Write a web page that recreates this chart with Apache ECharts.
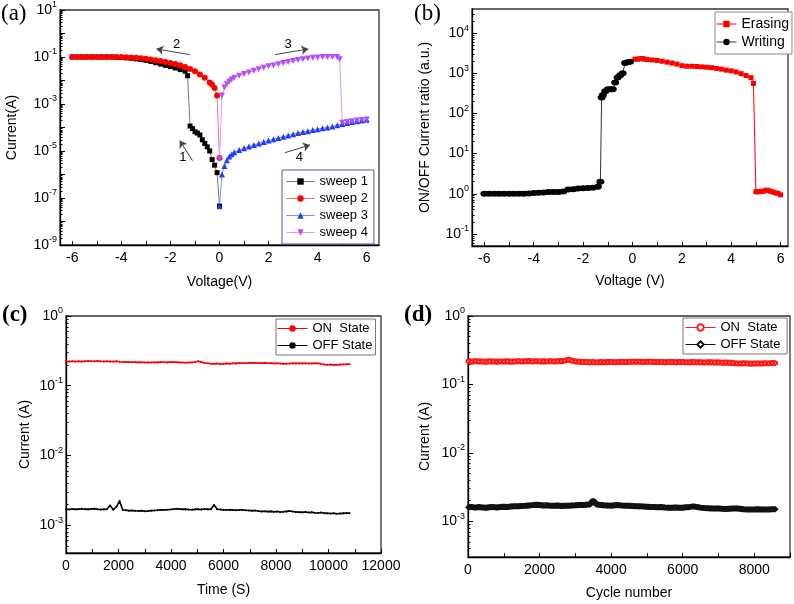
<!DOCTYPE html>
<html>
<head>
<meta charset="utf-8">
<script src="https://cdn.jsdelivr.net/npm/echarts@6/dist/echarts.min.js"></script>
<style>
html, body { margin: 0; padding: 0; background: #fff; }
#chart { width: 794px; height: 604px; }
</style>
</head>
<body>
<div id="chart"></div>
<script>
// ---------- (a) I-V sweeps ----------
const sweep1V = [0, -0.1, -0.2, -0.3, -0.4, -0.5, -0.6, -0.7, -0.8, -0.9, -1.0, -1.1, -1.2, -1.3, -1.4, -1.6, -1.8, -2.0, -2.2, -2.4, -2.6, -2.8, -3.0, -3.2, -3.4, -3.6, -3.8, -4.0, -4.2, -4.4, -4.6, -4.8, -5.0, -5.2, -5.4, -5.6, -5.8, -6.0]
const sweep1I = [4.5e-8, 1.2e-6, 2.5e-6, 4.3e-6, 1.0e-5, 1.5e-5, 2.1e-5, 3.0e-5, 4.8e-5, 5.8e-5, 6.6e-5, 9.0e-5, 1.15e-4, 0.016, 0.025, 0.029, 0.034, 0.039, 0.044, 0.050, 0.057, 0.065, 0.072, 0.078, 0.083, 0.088, 0.092, 0.095, 0.098, 0.1, 0.1, 0.1, 0.1, 0.1, 0.1, 0.1, 0.1, 0.1]

const sweep2V = [-6.0, -5.8, -5.6, -5.4, -5.2, -5.0, -4.8, -4.6, -4.4, -4.2, -4.0, -3.8, -3.6, -3.4, -3.2, -3.0, -2.8, -2.6, -2.4, -2.2, -2.0, -1.8, -1.6, -1.4, -1.2, -1.0, -0.8, -0.6, -0.4, -0.3, -0.2, -0.1, 0]
const sweep2I = [0.1, 0.1, 0.1, 0.1, 0.1, 0.1, 0.1, 0.1, 0.1, 0.1, 0.099, 0.098, 0.096, 0.093, 0.089, 0.084, 0.079, 0.073, 0.067, 0.061, 0.056, 0.050, 0.045, 0.038, 0.031, 0.025, 0.018, 0.013, 0.0082, 0.0066, 0.0048, 0.0023, 5e-6]

const sweep3V = [0, 0.1, 0.2, 0.3, 0.4, 0.5, 0.6, 0.8, 1.0, 1.2, 1.4, 1.6, 1.8, 2.0, 2.2, 2.4, 2.6, 2.8, 3.0, 3.2, 3.4, 3.6, 3.8, 4.0, 4.2, 4.4, 4.6, 4.8, 5.0, 5.2, 5.4, 5.6, 5.8, 6.0]
const sweep3I = [4.5e-8, 1.0e-6, 2.3e-6, 4.0e-6, 5.8e-6, 7.3e-6, 8.8e-6, 1.1e-5, 1.3e-5, 1.55e-5, 1.8e-5, 2.1e-5, 2.4e-5, 2.8e-5, 3.2e-5, 3.6e-5, 4.0e-5, 4.6e-5, 5.2e-5, 5.8e-5, 6.4e-5, 7.0e-5, 7.8e-5, 8.5e-5, 9.3e-5, 1.0e-4, 1.1e-4, 1.25e-4, 1.4e-4, 1.55e-4, 1.7e-4, 1.85e-4, 2.0e-4, 2.15e-4]

const sweep4V = [0, 0.1, 0.2, 0.3, 0.4, 0.5, 0.6, 0.8, 1.0, 1.2, 1.4, 1.6, 1.8, 2.0, 2.2, 2.4, 2.6, 2.8, 3.0, 3.2, 3.4, 3.6, 3.8, 4.0, 4.2, 4.4, 4.6, 4.8, 4.9, 5.0, 5.2, 5.4, 5.6, 5.8, 6.0]
const sweep4I = [4.6e-6, 2.3e-3, 5.0e-3, 7.0e-3, 9.0e-3, 0.011, 0.013, 0.016, 0.019, 0.022, 0.026, 0.030, 0.035, 0.040, 0.044, 0.049, 0.055, 0.061, 0.067, 0.074, 0.080, 0.086, 0.092, 0.096, 0.099, 0.1, 0.1, 0.1, 0.081, 1.6e-4, 1.7e-4, 1.85e-4, 2.0e-4, 2.1e-4, 2.2e-4]

// sweep-direction arrows, [tail, head] in (V, A), and their numbers
const arrowLines = [
  [[-1.21, 0.126], [-2.57, 0.22]],
  [[2.26, 0.126], [3.62, 0.22]],
  [[-1.10, 3.9e-6], [-1.62, 2.8e-5]],
  [[2.67, 8.5e-6], [3.69, 1.8e-5]]
]
const arrowLabels = [['2', -1.75, 0.34], ['3', 2.8, 0.35], ['1', -1.49, 5.4e-6], ['4', 3.25, 5.4e-6]]

// ---------- (b) ON/OFF ratio ----------
const writingV = [-6.0, -5.8, -5.6, -5.4, -5.2, -5.0, -4.8, -4.6, -4.4, -4.2, -4.0, -3.8, -3.6, -3.4, -3.2, -3.0, -2.8, -2.6, -2.4, -2.2, -2.0, -1.8, -1.6, -1.4, -1.3, -1.25, -1.2, -1.1, -1.0, -0.9, -0.8, -0.7, -0.6, -0.5, -0.4, -0.3, -0.2, -0.1]
const writingR = [1.0, 1.0, 1.0, 1.0, 1.0, 1.0, 1.0, 1.0, 1.0, 1.02, 1.04, 1.06, 1.08, 1.1, 1.1, 1.1, 1.14, 1.28, 1.3, 1.35, 1.38, 1.4, 1.42, 1.5, 2.0, 250, 290, 360, 400, 400, 400, 590, 790, 900, 1000, 1800, 1900, 1950]
const erasingV = [0.1, 0.2, 0.3, 0.4, 0.5, 0.6, 0.8, 1.0, 1.2, 1.4, 1.6, 1.8, 2.0, 2.2, 2.4, 2.6, 2.8, 3.0, 3.2, 3.4, 3.6, 3.8, 4.0, 4.2, 4.4, 4.6, 4.8, 4.9, 5.0, 5.1, 5.2, 5.3, 5.4, 5.5, 5.6, 5.7, 5.8, 5.9, 6.0]
const erasingR = [2250, 2250, 2300, 2350, 2250, 2200, 2150, 2100, 2000, 1900, 1800, 1700, 1550, 1500, 1500, 1480, 1450, 1420, 1380, 1330, 1270, 1200, 1150, 1080, 980, 880, 780, 560, 1.12, 1.12, 1.15, 1.15, 1.22, 1.22, 1.15, 1.1, 1.05, 1.02, 0.94]

// ---------- (c) retention, sampled every 120 s ----------
const timeStep = 120
const onTime = [0.224, 0.222, 0.225, 0.223, 0.224, 0.222, 0.225, 0.226, 0.224, 0.225, 0.226, 0.224, 0.223, 0.225, 0.223, 0.222, 0.224, 0.221, 0.219, 0.218, 0.219, 0.217, 0.218, 0.216, 0.217, 0.215, 0.216, 0.215, 0.217, 0.216, 0.218, 0.217, 0.216, 0.218, 0.219, 0.217, 0.216, 0.215, 0.214, 0.215, 0.216, 0.219, 0.224, 0.218, 0.212, 0.21, 0.207, 0.206, 0.208, 0.205, 0.206, 0.209, 0.207, 0.21, 0.209, 0.211, 0.21, 0.212, 0.214, 0.213, 0.214, 0.212, 0.211, 0.213, 0.21, 0.211, 0.209, 0.21, 0.208, 0.206, 0.207, 0.208, 0.21, 0.209, 0.21, 0.209, 0.21, 0.208, 0.209, 0.21, 0.209, 0.207, 0.201, 0.2, 0.201, 0.199, 0.2, 0.201, 0.202, 0.203, 0.204]
const offTimeMilliA = [1.70, 1.68, 1.71, 1.69, 1.70, 1.72, 1.70, 1.69, 1.71, 1.73, 1.70, 1.68, 1.69, 1.70, 1.92, 1.67, 1.84, 2.22, 1.66, 1.64, 1.62, 1.63, 1.61, 1.60, 1.62, 1.59, 1.60, 1.62, 1.63, 1.64, 1.66, 1.65, 1.67, 1.68, 1.70, 1.72, 1.71, 1.69, 1.70, 1.68, 1.67, 1.69, 1.70, 1.68, 1.71, 1.69, 1.70, 1.95, 1.70, 1.68, 1.66, 1.65, 1.67, 1.66, 1.64, 1.65, 1.66, 1.64, 1.63, 1.62, 1.63, 1.60, 1.58, 1.59, 1.57, 1.58, 1.56, 1.57, 1.55, 1.56, 1.58, 1.60, 1.57, 1.55, 1.54, 1.53, 1.55, 1.52, 1.53, 1.51, 1.50, 1.52, 1.49, 1.48, 1.47, 1.48, 1.46, 1.47, 1.48, 1.49, 1.49]

// ---------- (d) endurance, sampled every 100 cycles ----------
const cycleStep = 100
const onCycle = [0.218, 0.214, 0.219, 0.216, 0.217, 0.215, 0.218, 0.216, 0.214, 0.217, 0.216, 0.218, 0.215, 0.217, 0.219, 0.216, 0.218, 0.22, 0.217, 0.219, 0.216, 0.218, 0.217, 0.219, 0.216, 0.218, 0.22, 0.222, 0.229, 0.224, 0.216, 0.214, 0.212, 0.213, 0.211, 0.212, 0.21, 0.212, 0.211, 0.213, 0.212, 0.211, 0.213, 0.214, 0.212, 0.213, 0.214, 0.215, 0.214, 0.213, 0.215, 0.214, 0.213, 0.212, 0.213, 0.211, 0.212, 0.213, 0.211, 0.212, 0.213, 0.21, 0.211, 0.212, 0.21, 0.211, 0.209, 0.21, 0.211, 0.209, 0.21, 0.208, 0.209, 0.207, 0.205, 0.203, 0.202, 0.204, 0.203, 0.201, 0.202, 0.203, 0.202, 0.204, 0.203, 0.205, 0.206]
const offCycleMilliA = [1.60, 1.62, 1.58, 1.61, 1.59, 1.57, 1.60, 1.62, 1.59, 1.61, 1.63, 1.62, 1.64, 1.66, 1.65, 1.67, 1.68, 1.70, 1.72, 1.74, 1.73, 1.70, 1.71, 1.69, 1.68, 1.70, 1.67, 1.68, 1.69, 1.70, 1.71, 1.73, 1.72, 1.74, 1.76, 2.0, 1.75, 1.73, 1.71, 1.70, 1.69, 1.71, 1.72, 1.70, 1.69, 1.68, 1.67, 1.66, 1.65, 1.64, 1.63, 1.62, 1.61, 1.60, 1.61, 1.59, 1.58, 1.57, 1.59, 1.58, 1.57, 1.60, 1.62, 1.65, 1.61, 1.58, 1.56, 1.55, 1.54, 1.53, 1.54, 1.52, 1.51, 1.52, 1.53, 1.54, 1.52, 1.50, 1.49, 1.48, 1.49, 1.50, 1.49, 1.48, 1.49, 1.50, 1.50]

// ---------- ticks ----------
const voltLabels = [-6, -4, -2, 0, 2, 4, 6]
const voltTicks = [-6, -5, -4, -3, -2, -1, 0, 1, 2, 3, 4, 5, 6]
const timeLabels = [0, 2000, 4000, 6000, 8000, 10000, 12000]
const timeTicks = [0, 1000, 2000, 3000, 4000, 5000, 6000, 7000, 8000, 9000, 10000, 11000, 12000]
const cycleLabels = [0, 2000, 4000, 6000, 8000]
const cycleTicks = [0, 1000, 2000, 3000, 4000, 5000, 6000, 7000, 8000, 9000]
const aLogLabels = [1e-9, 1e-7, 1e-5, 1e-3, 1e-1, 1e1]
const aLogTicks = [1e-9, 1e-8, 1e-7, 1e-6, 1e-5, 1e-4, 1e-3, 1e-2, 1e-1, 1, 1e1]
const bLogTicks = [1e-1, 1, 1e1, 1e2, 1e3, 1e4]
const cdLogTicks = [1e-3, 1e-2, 1e-1, 1]

const FONT = '"Liberation Sans", Arial, sans-serif'
const zip = (xs, ys) => xs.map((x, i) => [x, ys[i]])
const stepped = (vals, step, scale) => vals.map((v, i) => [i * step, v * scale])

function logMinor(lo, hi) {
  const out = []
  for (let e = Math.floor(Math.log10(lo)); e <= Math.ceil(Math.log10(hi)); e++) {
    for (let m = 2; m <= 9; m++) {
      const v = m * Math.pow(10, e)
      if (v > lo * 1.0001 && v < hi * 0.9999) out.push(v)
    }
  }
  return out
}

const rich = {
  b: { fontSize: 14, fontFamily: FONT, color: '#000' },
  s: { fontSize: 9, fontFamily: FONT, color: '#000', verticalAlign: 'top', padding: [0, 0, 10, 0] }
}
const nameStyle = { fontSize: 14, fontFamily: FONT, color: '#000' }
const lineAx = { show: true, onZero: false, lineStyle: { color: '#000', width: 1.3 } }

function xAx(grid, min, max, labels, ticks, name, gap) {
  return {
    type: 'value', gridIndex: grid, min, max,
    name, nameLocation: 'middle', nameGap: gap, nameTextStyle: nameStyle,
    axisLine: lineAx, splitLine: { show: false },
    axisTick: { inside: true, length: 4, customValues: ticks, lineStyle: { color: '#000' } },
    axisLabel: { customValues: labels, margin: 6, fontSize: 14, fontFamily: FONT, color: '#000', formatter: v => String(v) }
  }
}
function yLog(grid, min, max, labels, ticks, name, gap) {
  return {
    type: 'log', logBase: 10, gridIndex: grid, min, max, position: 'left',
    name, nameLocation: 'middle', nameGap: gap, nameTextStyle: nameStyle,
    axisLine: lineAx, splitLine: { show: false },
    axisTick: { inside: true, length: 5, customValues: ticks, lineStyle: { color: '#000' } },
    axisLabel: {
      customValues: labels, margin: 3,
      formatter: v => '{b|10}{s|' + Math.round(Math.log10(v)) + '}', rich
    }
  }
}
function yMinor(grid, min, max) {
  return {
    type: 'log', logBase: 10, gridIndex: grid, min, max, position: 'left',
    axisLine: { show: false, onZero: false }, splitLine: { show: false }, axisLabel: { show: false },
    axisTick: { inside: true, length: 2.5, customValues: logMinor(min, max), lineStyle: { color: '#000' } }
  }
}

function legendBox(names, left, top, border, extra) {
  return Object.assign({
    data: names, orient: 'vertical', left, top,
    itemWidth: 28, itemHeight: 8, itemGap: 3, padding: [4, 4, 4, 4],
    borderColor: border, borderWidth: 1, backgroundColor: '#fff',
    lineStyle: { width: 1 },
    textStyle: { fontSize: 13, fontFamily: FONT, color: '#000' }
  }, extra || {})
}

const chart = echarts.init(document.getElementById('chart'))
chart.setOption({
  animation: false,
  backgroundColor: '#fff',
  textStyle: { fontFamily: FONT },
  grid: [
    { left: 60, top: 10, width: 319, height: 235, show: true, borderColor: '#333', borderWidth: 1.3 },
    { left: 472, top: 9, width: 316, height: 237, show: true, borderColor: '#333', borderWidth: 1.3 },
    { left: 66, top: 316, width: 315, height: 237, show: true, borderColor: '#333', borderWidth: 1.3 },
    { left: 468, top: 316, width: 322, height: 241, show: true, borderColor: '#333', borderWidth: 1.3 }
  ],
  xAxis: [
    xAx(0, -6.5, 6.5, voltLabels, voltTicks, 'Voltage(V)', 30),
    xAx(1, -6.5, 6.3, voltLabels, voltTicks, 'Voltage (V)', 28),
    xAx(2, 0, 12000, timeLabels, timeTicks, 'Time (S)', 30),
    xAx(3, 0, 9000, cycleLabels, cycleTicks, 'Cycle number', 29)
  ],
  yAxis: [
    yLog(0, 1e-9, 10, aLogLabels, aLogTicks, 'Current(A)', 41),
    yLog(1, 0.05, 40000, bLogTicks, bLogTicks, 'ON/OFF Current ratio (a.u.)', 40),
    yLog(2, 4e-4, 1, cdLogTicks, cdLogTicks, 'Current (A)', 34),
    yLog(3, 3e-4, 1, cdLogTicks, cdLogTicks, 'Current (A)', 36),
    yMinor(0, 1e-9, 10),
    yMinor(1, 0.05, 40000),
    yMinor(2, 4e-4, 1),
    yMinor(3, 3e-4, 1)
  ],
  legend: [
    legendBox(['sweep 1', 'sweep 2', 'sweep 3', 'sweep 4'], 282, 170, '#4a5aa8', { padding: [5, 6, 5, 4], itemGap: 4 }),
    legendBox(['Erasing', 'Writing'], 715, 12, '#888', { itemWidth: 20, itemGap: 4, padding: [5, 3, 5, 1], textStyle: { fontSize: 14, fontFamily: FONT, color: '#000' } }),
    legendBox(['ON  State', 'OFF State'], 276, 319, '#777', { itemWidth: 30, itemGap: 4, padding: [3, 3, 3, 1] }),
    legendBox(['ON  State ', 'OFF State '], 683, 318, '#777', { itemWidth: 30, itemGap: 4, padding: [3, 3, 3, 2] })
  ],
  graphic: [
    { type: 'text', left: 1, top: 2, style: { text: '(a)', font: '23px "Liberation Serif", serif', fill: '#000' } },
    { type: 'text', left: 414, top: 2, style: { text: '(b)', font: '23px "Liberation Serif", serif', fill: '#000' } },
    { type: 'text', left: 2, top: 304, style: { text: '(c)', font: 'bold 23px "Liberation Serif", serif', fill: '#000' } },
    { type: 'text', left: 404, top: 304, style: { text: '(d)', font: 'bold 23px "Liberation Serif", serif', fill: '#000' } }
  ],
  series: [
    {
      name: 'sweep 1', type: 'line', xAxisIndex: 0, yAxisIndex: 0, data: zip(sweep1V, sweep1I),
      symbol: 'rect', symbolSize: 5, showAllSymbol: true,
      itemStyle: { color: '#000' }, lineStyle: { color: '#777', width: 1 },
      markLine: {
        silent: true, symbol: ['none', 'arrow'], symbolSize: 7,
        label: { show: false }, lineStyle: { color: '#444', width: 1, type: 'solid' },
        data: arrowLines.map(([a, b]) => [{ coord: a }, { coord: b }])
      },
      markPoint: {
        silent: true, symbol: 'rect', symbolSize: 1, itemStyle: { color: 'rgba(0,0,0,0)' },
        label: { show: true, position: 'inside', formatter: p => p.name, fontSize: 13, fontFamily: FONT, color: '#000' },
        data: arrowLabels.map(([t, x, y]) => ({ name: t, coord: [x, y] }))
      }
    },
    {
      name: 'sweep 2', type: 'line', xAxisIndex: 0, yAxisIndex: 0, data: zip(sweep2V, sweep2I),
      symbol: 'circle', symbolSize: 6, showAllSymbol: true,
      itemStyle: { color: '#ff0000' }, lineStyle: { color: '#ff7070', width: 1 }
    },
    {
      name: 'sweep 3', type: 'line', xAxisIndex: 0, yAxisIndex: 0, data: zip(sweep3V, sweep3I),
      symbol: 'triangle', symbolSize: 6, showAllSymbol: true,
      itemStyle: { color: '#1f3cff' }, lineStyle: { color: '#7f8fff', width: 1 }
    },
    {
      name: 'sweep 4', type: 'line', xAxisIndex: 0, yAxisIndex: 0, data: zip(sweep4V, sweep4I),
      symbol: 'triangle', symbolRotate: 180, symbolSize: 6, showAllSymbol: true,
      itemStyle: { color: '#b44dff' }, lineStyle: { color: '#d09aff', width: 1 }
    },
    {
      name: 'Erasing', type: 'line', xAxisIndex: 1, yAxisIndex: 1, data: zip(erasingV, erasingR),
      symbol: 'rect', symbolSize: 5, showAllSymbol: true,
      itemStyle: { color: '#ff0000' }, lineStyle: { color: '#ff0000', width: 1 }
    },
    {
      name: 'Writing', type: 'line', xAxisIndex: 1, yAxisIndex: 1, data: zip(writingV, writingR),
      symbol: 'circle', symbolSize: [8, 6], showAllSymbol: true,
      itemStyle: { color: '#000' }, lineStyle: { color: '#333', width: 1 }
    },
    {
      name: 'ON  State', type: 'line', xAxisIndex: 2, yAxisIndex: 2, data: stepped(onTime, timeStep, 1),
      symbol: 'circle', symbolSize: 2, showAllSymbol: true,
      itemStyle: { color: '#ff0000' }, lineStyle: { color: '#ff0000', width: 1.6 }
    },
    {
      name: 'OFF State', type: 'line', xAxisIndex: 2, yAxisIndex: 2, data: stepped(offTimeMilliA, timeStep, 1e-3),
      symbol: 'circle', symbolSize: 2, showAllSymbol: true,
      itemStyle: { color: '#000' }, lineStyle: { color: '#000', width: 1.6 }
    },
    {
      name: 'ON  State ', type: 'line', xAxisIndex: 3, yAxisIndex: 3, data: stepped(onCycle, cycleStep, 1),
      symbol: 'emptyCircle', symbolSize: 3, showAllSymbol: true,
      itemStyle: { color: '#ff1a1a', borderWidth: 1 }, lineStyle: { color: '#ff1a1a', width: 6 }
    },
    {
      name: 'OFF State ', type: 'line', xAxisIndex: 3, yAxisIndex: 3, data: stepped(offCycleMilliA, cycleStep, 1e-3),
      symbol: 'emptyDiamond', symbolSize: 3, showAllSymbol: true,
      itemStyle: { color: '#111', borderWidth: 1 }, lineStyle: { color: '#111', width: 6 }
    }
  ]
})
</script>
</body>
</html>
